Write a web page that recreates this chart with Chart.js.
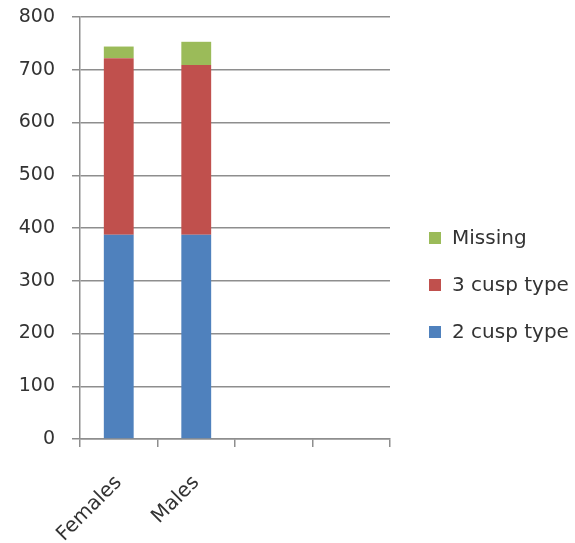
<!DOCTYPE html>
<html>
<head>
<meta charset="utf-8">
<script src="https://cdn.jsdelivr.net/npm/chart.js@4/dist/chart.umd.min.js"></script>
<style>
  html, body { margin: 0; padding: 0; background: #fff; }
  #wrap { position: relative; width: 575px; height: 543px; }
</style>
</head>
<body>
<div id="wrap"><canvas id="c" width="575" height="543"></canvas></div>
<script>
// Categories (the last two slots are left empty)
const categories = ['Females', 'Males', '', ''];

// Stacked series, bottom to top
const twoCusp   = [387, 387, null, null];
const threeCusp = [335, 322, null, null];
const missing   = [22, 44, null, null];

const seriesNames  = ['2 cusp type', '3 cusp type', 'Missing'];
const seriesColors = ['#4F81BD', '#C0504D', '#9BBB59'];

const yTicks = [0, 100, 200, 300, 400, 500, 600, 700, 800];

const FONT = 'DejaVu Sans';
const TEXT = '#333333';
const GRID = '#8e8e8e';

// Legend drawn at the right, top series first
const sideLegend = {
  id: 'sideLegend',
  afterDraw(chart) {
    const ctx = chart.ctx;
    const items = chart.data.datasets.slice().reverse();
    const rows = [238, 285, 332];
    ctx.save();
    ctx.font = '20px "' + FONT + '"';
    ctx.textBaseline = 'middle';
    ctx.textAlign = 'left';
    items.forEach((ds, i) => {
      const y = rows[i];
      ctx.fillStyle = ds.backgroundColor;
      ctx.fillRect(429, y - 6, 12, 12);
      ctx.fillStyle = TEXT;
      ctx.fillText(ds.label, 452, y + 1);
    });
    ctx.restore();
  }
};

const datasets = [twoCusp, threeCusp, missing].map((vals, i) => ({
  label: seriesNames[i],
  data: vals,
  backgroundColor: seriesColors[i],
  borderWidth: 0,
  barPercentage: 0.77,
  categoryPercentage: 0.5
}));

new Chart(document.getElementById('c'), {
  type: 'bar',
  data: { labels: categories, datasets },
  options: {
    responsive: false,
    animation: false,
    devicePixelRatio: 1,
    layout: { padding: { top: 17, right: 185, left: 0, bottom: 0 } },
    plugins: {
      legend: { display: false },
      tooltip: { enabled: false }
    },
    scales: {
      x: {
        stacked: true,
        afterFit: s => { s.height = 104; s.paddingTop = 0; },
        grid: {
          display: true,
          offset: true,
          drawOnChartArea: false,
          drawTicks: true,
          tickLength: 8,
          color: GRID,
          lineWidth: 1.5
        },
        border: { display: true, color: GRID, width: 1.5 },
        ticks: {
          minRotation: 45,
          maxRotation: 45,
          autoSkip: false,
          padding: 24,
          color: TEXT,
          font: { family: FONT, size: 20 }
        }
      },
      y: {
        stacked: true,
        min: 0,
        max: 800,
        afterFit: s => { s.width = 80; s.paddingTop = 0; s.paddingBottom = 0; },
        afterBuildTicks: s => { s.ticks = yTicks.map(v => ({ value: v })); },
        grid: {
          color: GRID,
          lineWidth: 1.5,
          drawTicks: true,
          tickLength: 8
        },
        border: { display: true, color: GRID, width: 1.5 },
        ticks: {
          padding: 17,
          color: TEXT,
          font: { family: FONT, size: 19 }
        }
      }
    }
  },
  plugins: [sideLegend]
});
</script>
</body>
</html>
